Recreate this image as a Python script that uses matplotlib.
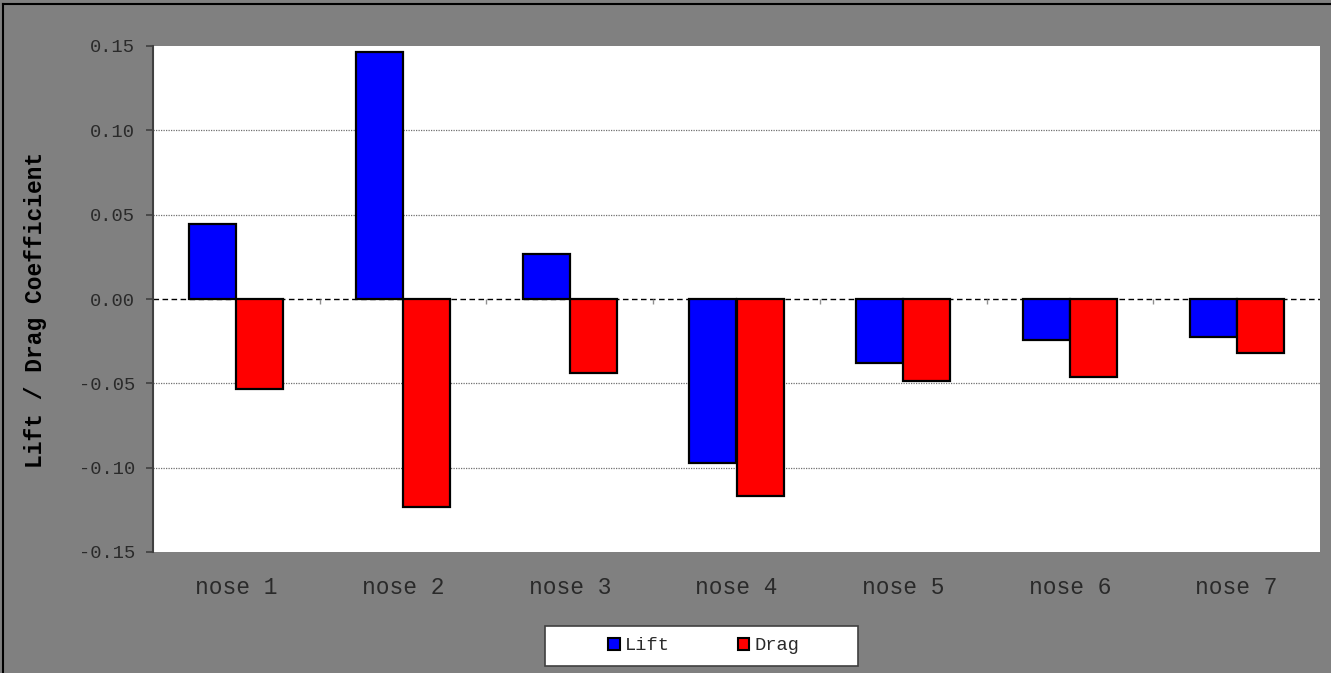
import matplotlib
matplotlib.use("Agg")
import matplotlib.pyplot as plt
from matplotlib.patches import Rectangle, Patch
from matplotlib.lines import Line2D
import numpy as np

# Nose-shape comparison: lift and drag coefficients
categories = ["nose 1", "nose 2", "nose 3", "nose 4", "nose 5", "nose 6", "nose 7"]
lift = [0.0445, 0.1463, 0.0267, -0.0974, -0.0377, -0.0241, -0.0223]
drag = [-0.0535, -0.1234, -0.0438, -0.1166, -0.0489, -0.0460, -0.0320]
y_ticks = [-0.15, -0.10, -0.05, 0.00, 0.05, 0.10, 0.15]

plt.rcParams["axes.unicode_minus"] = False
plt.rcParams["font.family"] = ["Liberation Mono", "DejaVu Sans Mono"]

W, H = 1331, 673
fig = plt.figure(figsize=(W / 100, H / 100), dpi=100, facecolor="#808080")

# plot area in pixel units
left, right, top, bottom = 153, 1320, 46, 552
ax = fig.add_axes([left / W, (H - bottom) / H, (right - left) / W, (bottom - top) / H])
ax.set_facecolor("white")

x = np.arange(len(categories))
w = 0.282
ax.bar(x - w / 2, lift, width=w, color="#0000FF", edgecolor="black", linewidth=1.6, zorder=3, label="Lift")
ax.bar(x + w / 2, drag, width=w, color="#FF0000", edgecolor="black", linewidth=1.6, zorder=3, label="Drag")

ax.set_xlim(-0.5, len(categories) - 0.5)
ax.set_ylim(y_ticks[0], y_ticks[-1])

# dashed zero line with small category-boundary ticks
ax.axhline(0, color="black", linewidth=1.0, linestyle=(0, (4, 2.5)), zorder=2)
bounds = np.arange(len(categories) - 1) + 0.5
ax.vlines(bounds, -0.003, 0, color="#909090", linewidth=1.0, zorder=2)

# y axis
ax.set_yticks(y_ticks)
ax.set_yticklabels([f"{v:.2f}" for v in y_ticks], fontsize=13.5, color="#2a2a2a")
ax.tick_params(axis="y", direction="out", length=5, width=1.2, color="#404040", pad=8)
ax.yaxis.grid(True, linestyle=(0, (1, 1)), color="#707070", linewidth=0.9, zorder=1)
for g, v in zip(ax.get_ygridlines(), y_ticks):
    if v in (y_ticks[0], y_ticks[-1], 0.0):
        g.set_visible(False)
ax.set_ylabel("Lift / Drag Coefficient", fontsize=16.5, fontweight="bold", color="black")
ax.yaxis.set_label_coords(-(153 - 47) / (right - left), 0.5 - (310 - 299) / (bottom - top))

# x axis
ax.set_xticks(x)
ax.set_xticklabels(categories, fontsize=16.5, color="#2a2a2a")
ax.tick_params(axis="x", length=0, pad=17)

for s in ("top", "right", "bottom"):
    ax.spines[s].set_visible(False)
ax.spines["left"].set_color("#404040")
ax.spines["left"].set_linewidth(1.5)

# legend box
lx0, lx1, ly0, ly1 = 545, 858, 626, 666
fig.patches.append(Rectangle((lx0 / W, (H - ly1) / H), (lx1 - lx0) / W, (ly1 - ly0) / H,
                             transform=fig.transFigure, facecolor="white",
                             edgecolor="#404040", linewidth=1.2, zorder=1))
handles = [Patch(facecolor="#0000FF", edgecolor="black", linewidth=1.5, label="Lift"),
           Patch(facecolor="#FF0000", edgecolor="black", linewidth=1.5, label="Drag")]
leg = fig.legend(handles=handles, loc="center", bbox_to_anchor=(704 / W, (H - 646) / H),
                 ncol=2, frameon=False, fontsize=13.5, handlelength=0.6, handleheight=0.6,
                 handletextpad=0.3, columnspacing=3.6, borderpad=0)
for t in leg.get_texts():
    t.set_color("#2a2a2a")

# chart border on top and left
fig.lines.append(Line2D([3 / W, 3 / W], [0, (H - 4) / H], transform=fig.transFigure, color="black", linewidth=1.5))
fig.lines.append(Line2D([3 / W, 1], [(H - 4) / H, (H - 4) / H], transform=fig.transFigure, color="black", linewidth=1.5))

fig.savefig("out.png", dpi=100, facecolor=fig.get_facecolor())
